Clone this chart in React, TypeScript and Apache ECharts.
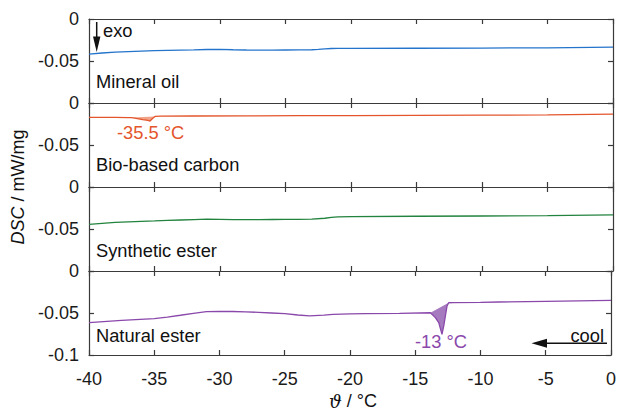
import React, { useEffect, useRef } from "react";
import * as echarts from "echarts";

// ---- data (temperature °C, DSC mW/mg) ----
const mineralOilT = [-40, -39, -38, -37, -36, -35, -34, -33, -32, -31, -30, -29, -28, -27, -26, -25, -24, -23, -22.5, -22, -21.5, -21, -20, -15, -10, -5, 0];
const mineralOilV = [-0.0417, -0.0405, -0.0395, -0.0388, -0.0382, -0.0377, -0.0373, -0.037, -0.0367, -0.0363, -0.0362, -0.0366, -0.0369, -0.037, -0.037, -0.0369, -0.0368, -0.0366, -0.0362, -0.0356, -0.0351, -0.0349, -0.0349, -0.0348, -0.0346, -0.0343, -0.0335];

const bioCarbonT = [-40, -38, -37, -36.75, -36.3, -35.9, -35.5, -35.34, -35.15, -34.96, -34.5, -32, -28, -24, -20, -15, -10, -5, 0];
const bioCarbonV = [-0.0172, -0.0172, -0.0173, -0.0173, -0.0185, -0.0197, -0.0208, -0.0215, -0.0185, -0.016, -0.0157, -0.0155, -0.0153, -0.0151, -0.015, -0.0148, -0.0145, -0.0141, -0.0132];
const bioPeakT = [-36.75, -36.3, -35.9, -35.5, -35.34, -35.15, -34.96];
const bioPeakV = [-0.0173, -0.0185, -0.0197, -0.0208, -0.0215, -0.0185, -0.016];

const syntheticT = [-40, -39, -38, -37, -36, -35, -34, -33, -32, -31, -30, -29, -28, -27, -26, -25, -24, -23, -22, -21.5, -21, -20, -15, -10, -5, 0];
const syntheticV = [-0.0444, -0.0432, -0.0422, -0.0414, -0.0409, -0.0404, -0.0398, -0.0393, -0.0388, -0.0383, -0.0385, -0.0388, -0.0389, -0.0388, -0.0387, -0.0386, -0.0385, -0.0383, -0.0372, -0.0362, -0.0356, -0.0352, -0.0348, -0.0345, -0.0341, -0.0333];

const naturalT = [-40, -37.5, -35, -34, -33, -32, -31, -30, -29, -28, -27, -26, -25, -24, -23.1, -22, -21.3, -20, -18.8, -16.2, -13.84, -13.46, -13.2, -12.95, -12.8, -12.57, -12.44, -12.1, -10, -8.6, -5, 0];
const naturalV = [-0.0615, -0.0587, -0.0567, -0.0548, -0.0527, -0.0505, -0.0484, -0.048, -0.0482, -0.0487, -0.0492, -0.05, -0.0508, -0.0524, -0.0535, -0.0526, -0.0516, -0.0511, -0.0508, -0.0504, -0.0497, -0.0555, -0.0615, -0.0754, -0.064, -0.042, -0.0378, -0.0377, -0.0373, -0.0369, -0.0362, -0.0349];
const naturalPeakT = [-13.84, -13.46, -13.2, -12.95, -12.8, -12.57, -12.44];
const naturalPeakV = [-0.0497, -0.0555, -0.0615, -0.0754, -0.064, -0.042, -0.0378];

const xTicks = { min: -40, max: 0, interval: 5 };
const yTicks = { min: -0.1, max: 0, interval: 0.05 };

const sampleNames = ["Mineral oil", "Bio-based carbon", "Synthetic ester", "Natural ester"];
const lineColors = ["#2474cc", "#e4552c", "#22833e", "#8a48ab"];
const fillColors = ["", "#f2a387", "", "#a57abf"];
const peakLabels = ["-35.5 °C", "-13 °C"];

const FONT = "'Liberation Sans', Arial, Helvetica, sans-serif";
const AXIS_COLOR = "#3a3a3a";
const FS = 18.3;

const zip = (t: number[], v: number[]) => t.map((x, i) => [x, v[i]]);

export default function App() {
  const ref = useRef<HTMLDivElement>(null);
  useEffect(() => {
    if (!ref.current) return;
    const chart = echarts.init(ref.current, undefined, { renderer: "svg" });
    const tops = [19, 103, 187, 271];
    const H = 84;
    const grid = tops.map((t) => ({ left: 89, right: 6, top: t, height: H }));

    const xAxis: any[] = [];
    const yAxis: any[] = [];
    tops.forEach((_, i) => {
      const baseX = {
        gridIndex: i,
        type: "value",
        min: xTicks.min,
        max: xTicks.max,
        interval: xTicks.interval,
        splitLine: { show: false },
        axisLine: { show: true, onZero: false, lineStyle: { color: AXIS_COLOR, width: 1.2 } },
        axisTick: { show: true, inside: true, length: 5, lineStyle: { color: AXIS_COLOR, width: 1.2 } },
      };
      xAxis.push({
        ...baseX,
        position: "bottom",
        axisLabel: {
          show: i === 3,
          color: "#1a1a1a",
          fontFamily: FONT,
          fontSize: 18,
          margin: 15,
          formatter: (v: number) => String(Math.round(v)),
        },
      });
      xAxis.push({ ...baseX, position: "top", axisLabel: { show: false } });
      const baseY = {
        gridIndex: i,
        type: "value",
        min: yTicks.min,
        max: yTicks.max,
        interval: yTicks.interval,
        splitLine: { show: false },
        axisLine: { show: true, onZero: false, lineStyle: { color: AXIS_COLOR, width: 1.2 } },
        axisTick: { show: true, inside: true, length: 5, lineStyle: { color: AXIS_COLOR, width: 1.2 } },
      };
      yAxis.push({
        ...baseY,
        position: "left",
        axisLabel: {
          show: true,
          color: "#1a1a1a",
          fontFamily: FONT,
          fontSize: 18,
          margin: 10,
          formatter: (v: number) => {
            if (i < 3 && v < -0.099) return "";
            return String(parseFloat(v.toFixed(2)));
          },
        },
      });
      yAxis.push({ ...baseY, position: "right", axisLabel: { show: false } });
    });

    const lineData = [
      zip(mineralOilT, mineralOilV),
      zip(bioCarbonT, bioCarbonV),
      zip(syntheticT, syntheticV),
      zip(naturalT, naturalV),
    ];

    const peakFill = (idx: number, pt: number[], pv: number[]) => ({
      type: "custom",
      xAxisIndex: idx * 2,
      yAxisIndex: idx * 2,
      silent: true,
      data: [[pt[0], pv[0]]],
      renderItem: (params: any, api: any) => {
        const pts = pt.map((t, k) => api.coord([t, pv[k]]));
        return {
          type: "polygon",
          shape: { points: pts },
          style: { fill: fillColors[idx], stroke: "none" },
        };
      },
      z: 1,
    });

    const series: any[] = [
      peakFill(1, bioPeakT, bioPeakV),
      peakFill(3, naturalPeakT, naturalPeakV),
      ...lineData.map((d, i) => ({
        type: "line",
        name: sampleNames[i],
        xAxisIndex: i * 2,
        yAxisIndex: i * 2,
        data: d,
        showSymbol: false,
        symbol: "none",
        lineStyle: { color: lineColors[i], width: 1.3 },
        z: 3,
      })),
    ];

    const txt = (text: string, x: number, y: number, color = "#111", align = "left", extra: any = {}) => ({
      type: "text",
      x,
      y,
      z: 10,
      style: {
        text,
        fill: color,
        font: `${FS}px ${FONT}`,
        textAlign: align,
        textVerticalAlign: "middle",
        ...extra,
      },
    });

    const graphic: any[] = [
      // exo arrow
      { type: "line", z: 10, shape: { x1: 96.7, y1: 22, x2: 96.7, y2: 42 }, style: { stroke: "#111", lineWidth: 1.5 } },
      { type: "polygon", z: 10, shape: { points: [[93, 36.5], [100.4, 36.5], [96.7, 52]] }, style: { fill: "#111" } },
      txt("exo", 103, 30.3),
      // cool arrow
      { type: "line", z: 10, shape: { x1: 607, y1: 343.3, x2: 542, y2: 343.3 }, style: { stroke: "#111", lineWidth: 1.5 } },
      { type: "polygon", z: 10, shape: { points: [[531.5, 343.3], [547, 338.8], [547, 347.8]] }, style: { fill: "#111" } },
      txt("cool", 604, 335.5, "#111", "right"),
      // sample names
      txt(sampleNames[0], 96, 81.5),
      txt(sampleNames[1], 96, 164.7),
      txt(sampleNames[2], 96, 250.2),
      txt(sampleNames[3], 96, 335.2),
      // peak labels
      txt(peakLabels[0], 117, 132.4, lineColors[1]),
      txt(peakLabels[1], 415, 341.5, lineColors[3]),
      // axis titles
      {
        type: "text",
        x: 18,
        y: 187,
        rotation: Math.PI / 2,
        z: 10,
        style: {
          text: "{i|DSC} / mW/mg",
          fill: "#111",
          font: `18px ${FONT}`,
          textAlign: "center",
          textVerticalAlign: "middle",
          rich: { i: { fontStyle: "italic", fontSize: 18, fontFamily: FONT, fill: "#111" } },
        },
      },
      {
        type: "text",
        x: 353,
        y: 401,
        z: 10,
        style: {
          text: "{i|ϑ} / °C",
          fill: "#111",
          font: `18px ${FONT}`,
          textAlign: "center",
          textVerticalAlign: "middle",
          rich: { i: { fontStyle: "italic", fontSize: 18, fontFamily: "'DejaVu Serif', serif", fill: "#111" } },
        },
      },
    ];

    chart.setOption({
      animation: false,
      backgroundColor: "#ffffff",
      grid,
      xAxis,
      yAxis,
      series,
      graphic,
    });
    return () => chart.dispose();
  }, []);
  return <div ref={ref} style={{ width: 619, height: 410, position: "absolute", left: 0, top: 0 }} />;
}
